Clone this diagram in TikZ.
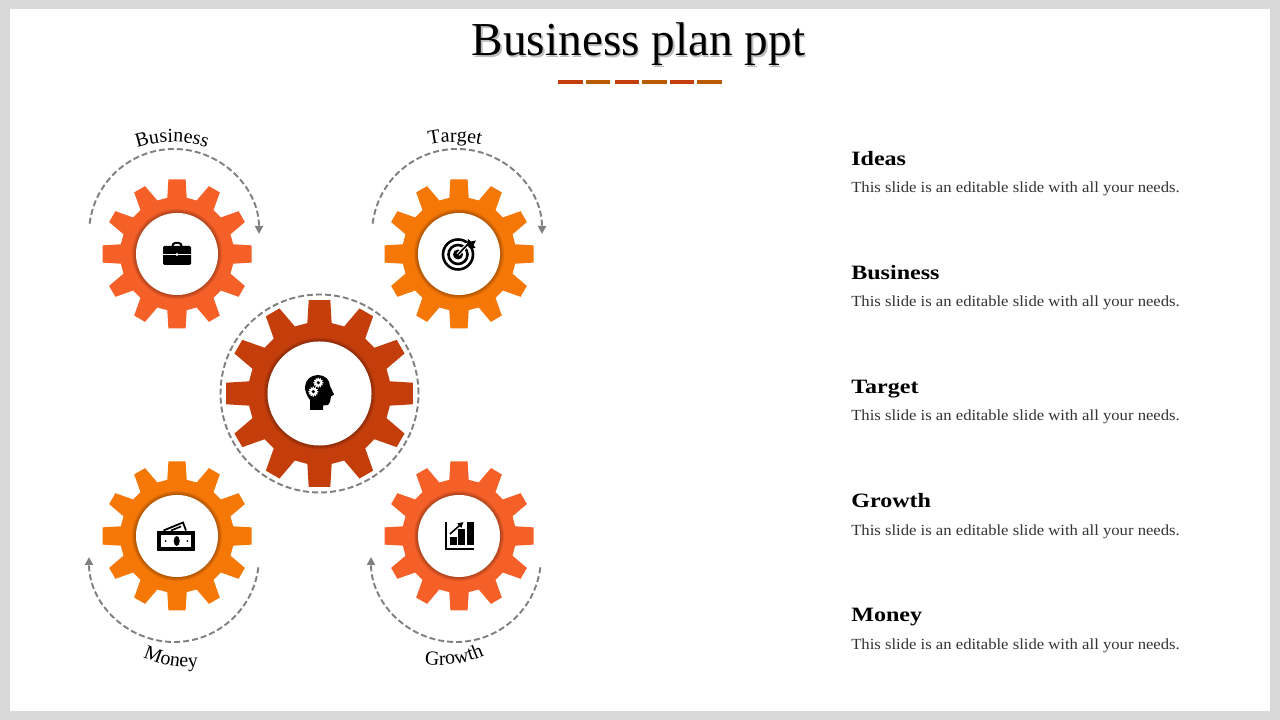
\documentclass[tikz,border=0pt]{standalone}
\usepackage{fontspec}
\usepackage{tikz}
\usetikzlibrary{arrows.meta,decorations.text}
\setmainfont{Liberation Serif}
\newfontfamily\headfont[FakeStretch=1.18]{Liberation Serif}
\newfontfamily\bodyfont[FakeStretch=1.08]{Liberation Serif}

\definecolor{cogred}{HTML}{F55F28}
\definecolor{cogorange}{HTML}{F57706}
\definecolor{cogdark}{HTML}{C43E0C}
\definecolor{barbrown}{HTML}{B85A00}
\definecolor{ringgray}{HTML}{808080}
\definecolor{framegray}{HTML}{D9D9D9}

\tikzset{
  ringline/.style={draw=ringgray,line width=0.048cm,dash pattern=on 0.15cm off 0.075cm},
  ringarrow/.style={ringline,-{Triangle[length=0.2cm,width=0.2cm]}},
  hub/.style={circle,fill=white,inner sep=0pt,minimum size=#1*0.05cm},
  headtext/.style={anchor=base west,inner sep=0pt,font=\headfont\bfseries\fontsize{14.5}{18}\selectfont},
  bodytext/.style={anchor=base west,inner sep=0pt,text=black!80,font=\bodyfont\fontsize{10.97}{14}\selectfont},
  arclabel/.style={decorate,decoration={text along path,text align=center,text={|\fontsize{14.2}{16}\selectfont|#1}}}
}

% centre, outer radius, colour
\newcommand{\cogwheel}[3]{
  \fill[#3] ([shift={(-20.2:{0.76*#2})}]#1)
    \foreach \a/\t in {0/6.6,30/4.8,60/4.8,90/6.6,120/4.8,150/4.8,180/6.6,210/4.8,240/4.8,270/6.6,300/4.8,330/4.8}{
      -- ([shift={(\a-9.8:{0.76*#2})}]#1)
      -- ([shift={(\a-\t:#2)}]#1)
      -- ([shift={(\a+\t:#2)}]#1)
      -- ([shift={(\a+9.8:{0.76*#2})}]#1)
      -- ([shift={(\a+20.2:{0.76*#2})}]#1)
    } -- cycle;
}

\begin{document}
\begin{tikzpicture}[x=0.025cm,y=0.025cm]
  \useasboundingbox (0,0) rectangle (1280,720);
  \fill[framegray] (0,0) rectangle (1280,720);
  \fill[white] (10,9) rectangle (1270,711);

  % title
  \node[anchor=base,text=black!25,font=\fontsize{33.6}{40}\selectfont] (titleshade) at (640,662) {Business plan ppt};
  \node[anchor=base,font=\fontsize{33.6}{40}\selectfont] (title) at (638.5,664.5) {Business plan ppt};
  \fill[cogdark] (558,636) rectangle (583,640);
  \fill[barbrown] (586,636) rectangle (610,640);
  \fill[cogdark] (615,636) rectangle (639,640);
  \fill[barbrown] (642,636) rectangle (667,640);
  \fill[cogdark] (670,636) rectangle (694,640);
  \fill[barbrown] (697,636) rectangle (722,640);

  \coordinate (bizcog) at (177,466);
  \coordinate (targetcog) at (459,466);
  \coordinate (moneycog) at (177,184);
  \coordinate (growthcog) at (459,184);
  \coordinate (ideacog) at (319.5,326.5);

  \cogwheel{bizcog}{75}{cogred}
  \cogwheel{targetcog}{75}{cogorange}
  \cogwheel{moneycog}{75}{cogorange}
  \cogwheel{growthcog}{75}{cogred}
  \cogwheel{ideacog}{94}{cogdark}

  \foreach \c/\r in {bizcog/41,targetcog/41,moneycog/41,growthcog/41,ideacog/52}{
    \foreach \k in {4,3,2,1}
      \fill[black,opacity=0.07] (\c) circle ({\r+\k});
  }
  \node[hub=41] (bizhub) at (bizcog) {};
  \node[hub=41] (targethub) at (targetcog) {};
  \node[hub=41] (moneyhub) at (moneycog) {};
  \node[hub=41] (growthhub) at (growthcog) {};
  \node[hub=52] (ideahub) at (ideacog) {};

  % dashed rings
  \draw[ringline] (ideacog) circle (99);
  \draw[ringarrow] (174,486) ++(173:85) arc (173:0:85);
  \draw[ringarrow] (457,486) ++(173:85) arc (173:0:85);
  \draw[ringarrow] (174,163) ++(-7:85) arc (-7:-180:85);
  \draw[ringarrow] (456,163) ++(-7:85) arc (-7:-180:85);

  % labels on the rings
  \path[arclabel=Business] (172,468) ++(130:110) arc (130:50:110);
  \path[arclabel=Target] (455,458) ++(125:120) arc (125:55:120);
  \path[arclabel=Money] (189,163) ++(230:110) arc (230:290:110);
  \path[arclabel=Growth] (440,163) ++(248:108) arc (248:308:108);

  % briefcase
  \fill[black,rounded corners=1] (163,474) rectangle (191,455);
  \draw[black,line width=0.05cm,rounded corners=2] (172.5,474) -- (172.5,477) -- (181.5,477) -- (181.5,474);
  \fill[white] (163,465.2) rectangle (191,466.2);
  \fill[white] (177,465.5) circle (1.6);

  % target
  \draw[black,line width=0.065cm] (458,465.5) circle (15);
  \draw[black,line width=0.065cm] (458,465.5) circle (9.5);
  \fill[black] (458,465.5) circle (5);
  \draw[white,line width=0.09cm] (458,465.5) -- (470,478);
  \draw[black,line width=0.04cm] (458,465.5) -- (470,478);
  \fill[black] (467,475) -- (468,481) -- (471,478.5) -- (476,479.5) -- (473.5,475) -- (475.5,472) -- (470,471.5) -- cycle;

  % banknote
  \draw[black,line width=0.045cm] (163.5,189.5) -- (183,197.5) -- (186,189.5);
  \draw[black,line width=0.04cm] (171,189.5) -- (181,193.5);
  \draw[black,line width=0.08cm] (159,171) rectangle (193,187);
  \fill[black] (176.7,179) ellipse (3 and 5);
  \fill[black] (165.7,179) circle (1);
  \fill[black] (187.3,179) circle (1);

  % chart
  \fill[black] (445,170) rectangle (446.8,198);
  \fill[black] (445,170) rectangle (473.5,172);
  \fill[black] (450,175) rectangle (456.7,183.3);
  \fill[black] (458.3,175) rectangle (465,190.7);
  \fill[black] (467.3,175) rectangle (473.5,198.3);
  \draw[black,line width=0.04cm,-{Triangle[length=0.14cm,width=0.14cm]}] (450,186) -- (463.5,198);

  % head with two small cogs
  \fill[black] (310,310) -- (310,320) .. controls (306,325) and (305,330) .. (305,333)
    .. controls (305,340) and (311,345) .. (318,345)
    .. controls (325,345) and (330,340) .. (330,334) -- (334,325.5) -- (331,323.5)
    -- (330,318) -- (328,315) -- (323,314.5) -- (323,310) -- cycle;
  \cogwheel{318.3,337.3}{5}{white}
  \cogwheel{313.3,328.3}{5}{white}
  \fill[black] (318.3,337.3) circle (1.8);
  \fill[black] (313.3,328.3) circle (1.8);

  % right column
  \node[headtext] (ideashead) at (851,554.5) {Ideas};
  \node[bodytext] (ideasbody) at (851,527) {This slide is an editable slide with all your needs.};
  \node[headtext] (bizhead) at (851,440.5) {Business};
  \node[bodytext] (bizbody) at (851,413) {This slide is an editable slide with all your needs.};
  \node[headtext] (targethead) at (851,326.5) {Target};
  \node[bodytext] (targetbody) at (851,299) {This slide is an editable slide with all your needs.};
  \node[headtext] (growthhead) at (851,212.5) {Growth};
  \node[bodytext] (growthbody) at (851,184) {This slide is an editable slide with all your needs.};
  \node[headtext] (moneyhead) at (851,98.5) {Money};
  \node[bodytext] (moneybody) at (851,70) {This slide is an editable slide with all your needs.};
\end{tikzpicture}
\end{document}
